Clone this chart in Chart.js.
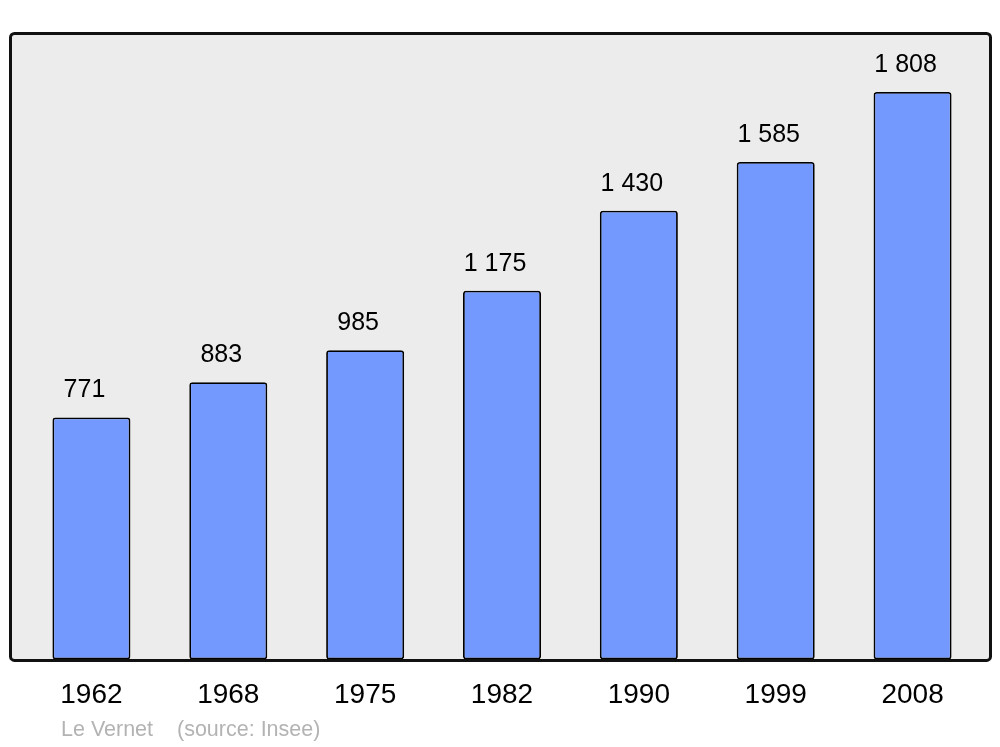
<!DOCTYPE html>
<html lang="fr">
<head>
    <meta charset="UTF-8">
    <title>Le Vernet - population</title>
    <script src="https://cdn.jsdelivr.net/npm/chart.js"></script>
    <style>
        body { margin: 0; background: #ffffff; }
        #wrap { width: 1000px; height: 747px; }
    </style>
</head>
<body>
    <div id="wrap"><canvas id="pop" width="1000" height="747"></canvas></div>
    <script>
        // données (recensements Insee)
        const annees = ['1962', '1968', '1975', '1982', '1990', '1999', '2008'];
        const population = [771, 883, 985, 1175, 1430, 1585, 1808];
        const etiquettes = ['771', '883', '985', '1 175', '1 430', '1 585', '1 808'];
        const yMax = 1993;

        Chart.defaults.font.family = '"Liberation Sans", Arial, sans-serif';

        // cadre gris arrondi derrière les barres
        const cadre = {
            id: 'cadre',
            beforeDraw(chart) {
                const a = chart.chartArea;
                const c = chart.ctx;
                c.save();
                c.beginPath();
                c.roundRect(a.left - 12.5, a.top - 0.5, a.right - a.left + 22, a.bottom - a.top + 1.5, 4);
                c.fillStyle = '#ececec';
                c.fill();
                c.restore();
            },
            afterDatasetsDraw(chart) {
                const a = chart.chartArea;
                const c = chart.ctx;
                c.save();
                c.beginPath();
                c.roundRect(a.left - 12.5, a.top - 0.5, a.right - a.left + 22, a.bottom - a.top + 1.5, 4);
                c.lineWidth = 3;
                c.strokeStyle = '#111111';
                c.stroke();
                // valeurs au-dessus des barres
                c.fillStyle = '#000000';
                c.font = '25px "Liberation Sans", Arial, sans-serif';
                c.textAlign = 'center';
                c.textBaseline = 'middle';
                chart.getDatasetMeta(0).data.forEach((bar, i) => {
                    c.fillText(etiquettes[i], bar.x - 7, bar.y - 27);
                });
                // source
                c.fillStyle = '#b3b3b3';
                c.font = '21.5px "Liberation Sans", Arial, sans-serif';
                c.textAlign = 'left';
                c.fillText('Le Vernet', 61, 730);
                c.fillText('(source: Insee)', 177, 730);
                c.restore();
            }
        };

        new Chart(document.getElementById('pop').getContext('2d'), {
            type: 'bar',
            data: {
                labels: annees,
                datasets: [{
                    data: population,
                    backgroundColor: '#7399ff',
                    borderColor: '#000000',
                    borderWidth: 1.8,
                    borderRadius: 3,
                    borderSkipped: false,
                    barPercentage: 0.57,
                    categoryPercentage: 1.0
                }]
            },
            options: {
                responsive: false,
                animation: false,
                layout: { padding: { left: 23, right: 19, top: 34, bottom: 16 } },
                plugins: {
                    legend: { display: false },
                    tooltip: { enabled: false }
                },
                scales: {
                    y: {
                        display: false,
                        min: 0,
                        max: yMax
                    },
                    x: {
                        grid: { display: false, drawTicks: false },
                        border: { display: false },
                        ticks: {
                            color: '#000000',
                            padding: 19,
                            font: { size: 28 }
                        }
                    }
                }
            },
            plugins: [cadre]
        });
    </script>
</body>
</html>
